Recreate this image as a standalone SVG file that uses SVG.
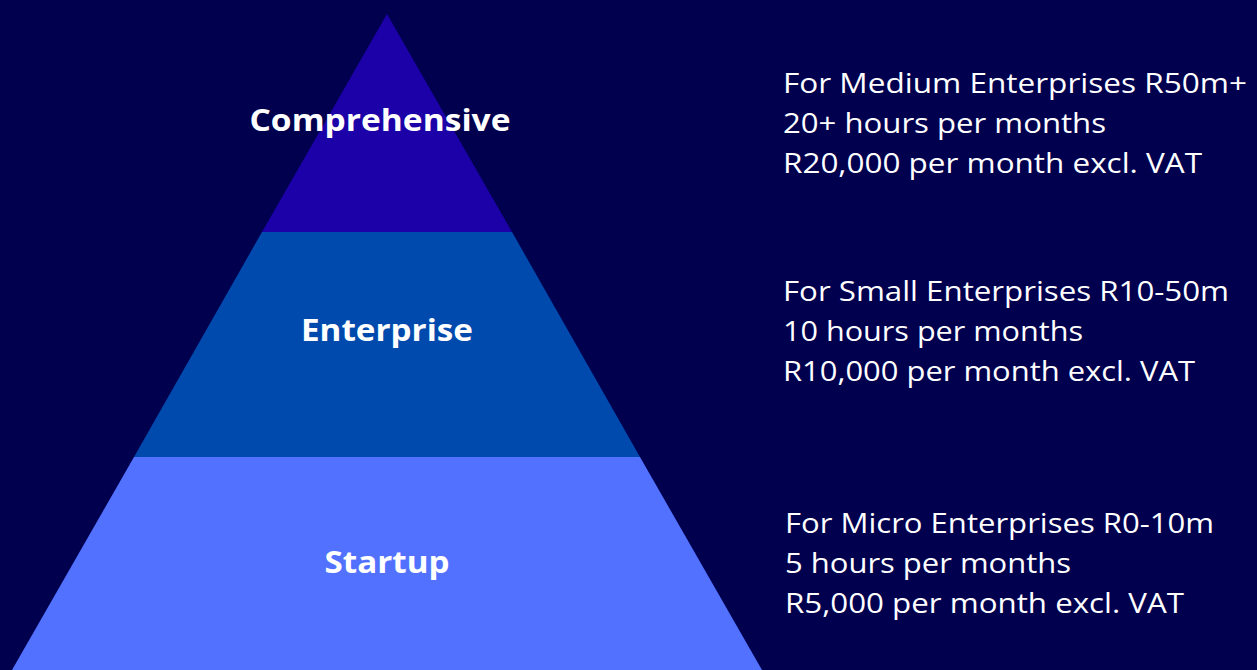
<svg xmlns="http://www.w3.org/2000/svg" width="1257" height="670" viewBox="0 0 1257 670">
<style>
.lbl{font-family:"Open Sans","Liberation Sans",sans-serif;font-weight:700;font-size:31px;fill:#FFFFFF;text-anchor:middle}
.desc{font-family:"Open Sans","Liberation Sans",sans-serif;font-weight:400;font-size:28px;fill:#FFFFFF}
</style>
<rect width="1257" height="670" fill="#00004F"/>
<g id="tier-comprehensive">
<polygon points="387,14 512,232 262,232" fill="#1C00A8"/>
<text class="lbl" x="380" y="131" textLength="261" lengthAdjust="spacingAndGlyphs">Comprehensive</text>
</g>
<g id="tier-enterprise">
<polygon points="262,232 512,232 640,457 134,457" fill="#004AAD"/>
<text class="lbl" x="387" y="341" textLength="172" lengthAdjust="spacingAndGlyphs">Enterprise</text>
</g>
<g id="tier-startup">
<polygon points="134,457 640,457 762,670 12,670" fill="#5271FF"/>
<text class="lbl" x="387" y="573" textLength="125" lengthAdjust="spacingAndGlyphs">Startup</text>
</g>
<g id="desc-comprehensive">
<text class="desc" x="783" y="93" textLength="464" lengthAdjust="spacingAndGlyphs">For Medium Enterprises R50m+</text>
<text class="desc" x="783" y="133" textLength="323" lengthAdjust="spacingAndGlyphs">20+ hours per months</text>
<text class="desc" x="783" y="173" textLength="419" lengthAdjust="spacingAndGlyphs">R20,000 per month excl. VAT</text>
</g>
<g id="desc-enterprise">
<text class="desc" x="783" y="301" textLength="446" lengthAdjust="spacingAndGlyphs">For Small Enterprises R10-50m</text>
<text class="desc" x="783" y="341" textLength="300" lengthAdjust="spacingAndGlyphs">10 hours per months</text>
<text class="desc" x="783" y="381" textLength="412" lengthAdjust="spacingAndGlyphs">R10,000 per month excl. VAT</text>
</g>
<g id="desc-startup">
<text class="desc" x="785" y="533" textLength="429" lengthAdjust="spacingAndGlyphs">For Micro Enterprises R0-10m</text>
<text class="desc" x="785" y="573" textLength="286" lengthAdjust="spacingAndGlyphs">5 hours per months</text>
<text class="desc" x="785" y="613" textLength="399" lengthAdjust="spacingAndGlyphs">R5,000 per month excl. VAT</text>
</g>
<g id="connectors"></g>
</svg>
